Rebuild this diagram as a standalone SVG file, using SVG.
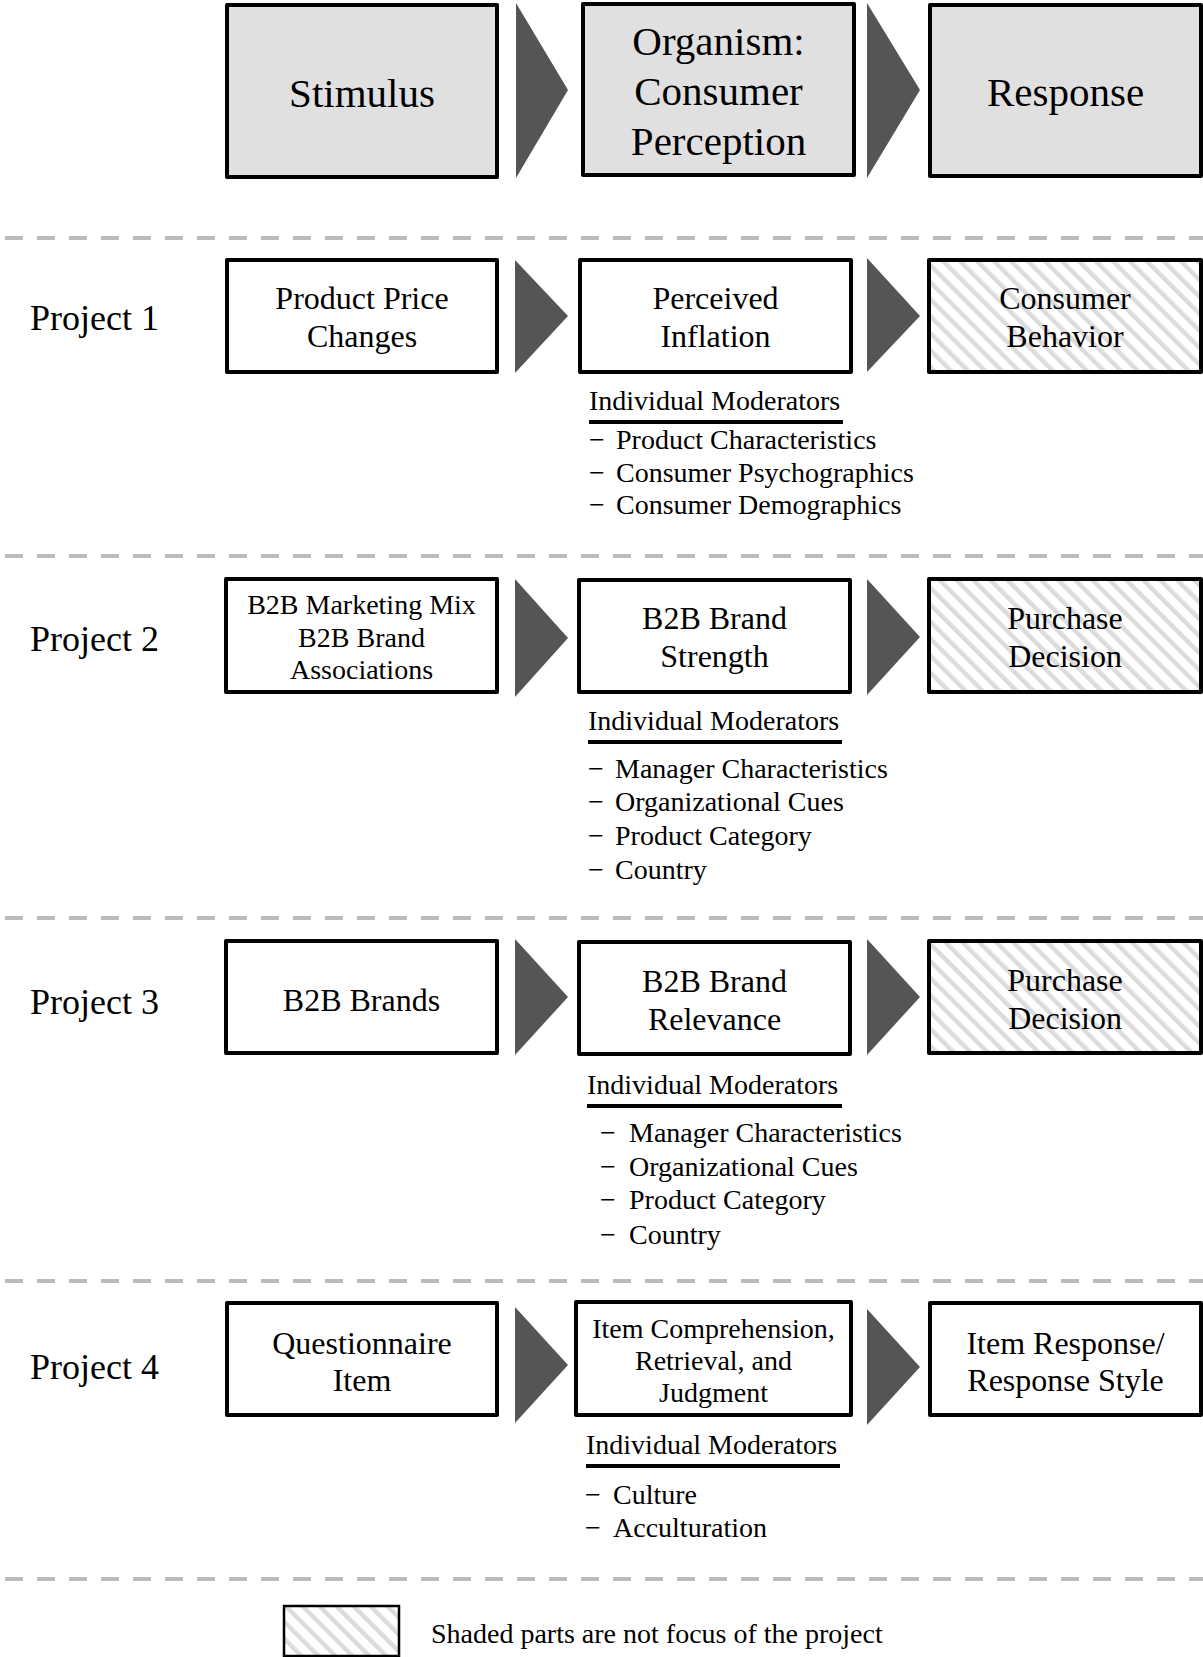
<svg xmlns="http://www.w3.org/2000/svg" width="1203" height="1657" viewBox="0 0 1203 1657">
<style>
text{font-family:"Liberation Serif","Times New Roman",serif;fill:#000}
.box{fill:#fff;stroke:#000;stroke-width:4;stroke-linejoin:round}
.head{fill:#e0e0e0;stroke:#000;stroke-width:4;stroke-linejoin:round}
.hatch{fill:url(#hatch);stroke:#000;stroke-width:4;stroke-linejoin:round}
.arr{fill:#555}
.sep{stroke:#bbb;stroke-width:4;stroke-dasharray:18 14;fill:none}
.t41{font-size:41px;text-anchor:middle}
.t32{font-size:32px;text-anchor:middle}
.t28{font-size:28px;text-anchor:middle}
.lab{font-size:36px}
.mod{font-size:28px}
.ul{stroke:#000;stroke-width:4}
</style>
<defs>
<pattern id="hatch" width="12" height="12" patternUnits="userSpaceOnUse" patternTransform="rotate(-45)">
<rect width="12" height="12" fill="#fff"/>
<rect x="0" y="0" width="4.5" height="12" fill="#dcdcdc"/>
</pattern>
</defs>

<g id="separators">
<line class="sep" x1="5" y1="238" x2="1203" y2="238"/>
<line class="sep" x1="5" y1="556" x2="1203" y2="556"/>
<line class="sep" x1="5" y1="918" x2="1203" y2="918"/>
<line class="sep" x1="5" y1="1281" x2="1203" y2="1281"/>
<line class="sep" x1="5" y1="1579" x2="1203" y2="1579"/>
</g>

<g id="connectors">
<polygon class="arr" points="516,3 516,178 568,90"/>
<polygon class="arr" points="867,3 867,178 920,90"/>
<polygon class="arr" points="515,260 515,373 568,316"/>
<polygon class="arr" points="867,258 867,372 920,316"/>
<polygon class="arr" points="515,579 515,697 568,638"/>
<polygon class="arr" points="867,579 867,695 920,637"/>
<polygon class="arr" points="515,939 515,1055 568,997"/>
<polygon class="arr" points="867,939 867,1055 920,997"/>
<polygon class="arr" points="515,1307 515,1423 568,1365"/>
<polygon class="arr" points="867,1309 867,1425 920,1367"/>
</g>

<g id="stimulus">
<rect class="head" x="227" y="5" width="270" height="172"/>
<text class="t41" x="362" y="107">Stimulus</text>
</g>
<g id="organism">
<rect class="head" x="583" y="4" width="271" height="171"/>
<text class="t41" x="718.5" y="55">Organism:</text>
<text class="t41" x="718.5" y="105">Consumer</text>
<text class="t41" x="718.5" y="155">Perception</text>
</g>
<g id="response">
<rect class="head" x="930" y="5" width="271" height="171"/>
<text class="t41" x="1065.5" y="106">Response</text>
</g>

<g id="project1">
<text class="lab" x="30" y="330">Project 1</text>
</g>
<g id="p1-stimulus">
<rect class="box" x="227" y="260" width="270" height="112"/>
<text class="t32" x="362" y="309">Product Price</text>
<text class="t32" x="362" y="347">Changes</text>
</g>
<g id="p1-organism">
<rect class="box" x="580" y="260" width="271" height="112"/>
<text class="t32" x="715.5" y="309">Perceived</text>
<text class="t32" x="715.5" y="347">Inflation</text>
</g>
<g id="p1-response">
<rect class="hatch" x="929" y="260" width="272" height="112"/>
<text class="t32" x="1065" y="309">Consumer</text>
<text class="t32" x="1065" y="347">Behavior</text>
</g>
<g id="p1-moderators">
<text class="mod" x="589" y="410">Individual Moderators</text>
<line class="ul" x1="589" y1="422" x2="843" y2="422"/>
<text class="mod" x="589" y="449">−</text><text class="mod" x="616" y="449">Product Characteristics</text>
<text class="mod" x="589" y="482">−</text><text class="mod" x="616" y="482">Consumer Psychographics</text>
<text class="mod" x="589" y="514">−</text><text class="mod" x="616" y="514">Consumer Demographics</text>
</g>

<g id="project2">
<text class="lab" x="30" y="651">Project 2</text>
</g>
<g id="p2-stimulus">
<rect class="box" x="226" y="579" width="271" height="113"/>
<text class="t28" x="361.5" y="614">B2B Marketing Mix</text>
<text class="t28" x="361.5" y="647">B2B Brand</text>
<text class="t28" x="361.5" y="679">Associations</text>
</g>
<g id="p2-organism">
<rect class="box" x="579" y="580" width="271" height="112"/>
<text class="t32" x="714.5" y="629">B2B Brand</text>
<text class="t32" x="714.5" y="667">Strength</text>
</g>
<g id="p2-response">
<rect class="hatch" x="929" y="579" width="272" height="113"/>
<text class="t32" x="1065" y="629">Purchase</text>
<text class="t32" x="1065" y="667">Decision</text>
</g>
<g id="p2-moderators">
<text class="mod" x="588" y="730">Individual Moderators</text>
<line class="ul" x1="588" y1="742" x2="842" y2="742"/>
<text class="mod" x="588" y="778">−</text><text class="mod" x="615" y="778">Manager Characteristics</text>
<text class="mod" x="588" y="811">−</text><text class="mod" x="615" y="811">Organizational Cues</text>
<text class="mod" x="588" y="845">−</text><text class="mod" x="615" y="845">Product Category</text>
<text class="mod" x="588" y="879">−</text><text class="mod" x="615" y="879">Country</text>
</g>

<g id="project3">
<text class="lab" x="30" y="1014">Project 3</text>
</g>
<g id="p3-stimulus">
<rect class="box" x="226" y="941" width="271" height="112"/>
<text class="t32" x="361.5" y="1011">B2B Brands</text>
</g>
<g id="p3-organism">
<rect class="box" x="579" y="942" width="271" height="112"/>
<text class="t32" x="714.5" y="992">B2B Brand</text>
<text class="t32" x="714.5" y="1030">Relevance</text>
</g>
<g id="p3-response">
<rect class="hatch" x="929" y="941" width="272" height="112"/>
<text class="t32" x="1065" y="991">Purchase</text>
<text class="t32" x="1065" y="1029">Decision</text>
</g>
<g id="p3-moderators">
<text class="mod" x="587" y="1094">Individual Moderators</text>
<line class="ul" x1="587" y1="1106" x2="842" y2="1106"/>
<text class="mod" x="600" y="1142">−</text><text class="mod" x="629" y="1142">Manager Characteristics</text>
<text class="mod" x="600" y="1176">−</text><text class="mod" x="629" y="1176">Organizational Cues</text>
<text class="mod" x="600" y="1209">−</text><text class="mod" x="629" y="1209">Product Category</text>
<text class="mod" x="600" y="1244">−</text><text class="mod" x="629" y="1244">Country</text>
</g>

<g id="project4">
<text class="lab" x="30" y="1379">Project 4</text>
</g>
<g id="p4-stimulus">
<rect class="box" x="227" y="1303" width="270" height="112"/>
<text class="t32" x="362" y="1354">Questionnaire</text>
<text class="t32" x="362" y="1391">Item</text>
</g>
<g id="p4-organism">
<rect class="box" x="576" y="1302" width="275" height="113"/>
<text class="t28" x="713.5" y="1338">Item Comprehension,</text>
<text class="t28" x="713.5" y="1370">Retrieval, and</text>
<text class="t28" x="713.5" y="1402">Judgment</text>
</g>
<g id="p4-response">
<rect class="box" x="930" y="1303" width="271" height="112"/>
<text class="t32" x="1065.5" y="1354">Item Response/</text>
<text class="t32" x="1065.5" y="1391">Response Style</text>
</g>
<g id="p4-moderators">
<text class="mod" x="586" y="1454">Individual Moderators</text>
<line class="ul" x1="586" y1="1466" x2="840" y2="1466"/>
<text class="mod" x="585" y="1504">−</text><text class="mod" x="613" y="1504">Culture</text>
<text class="mod" x="585" y="1537">−</text><text class="mod" x="613" y="1537">Acculturation</text>
</g>

<g id="legend">
<rect x="284" y="1606" width="115" height="50" fill="url(#hatch)" stroke="#000" stroke-width="2.5"/>
<text class="mod" x="431" y="1643">Shaded parts are not focus of the project</text>
</g>
</svg>
